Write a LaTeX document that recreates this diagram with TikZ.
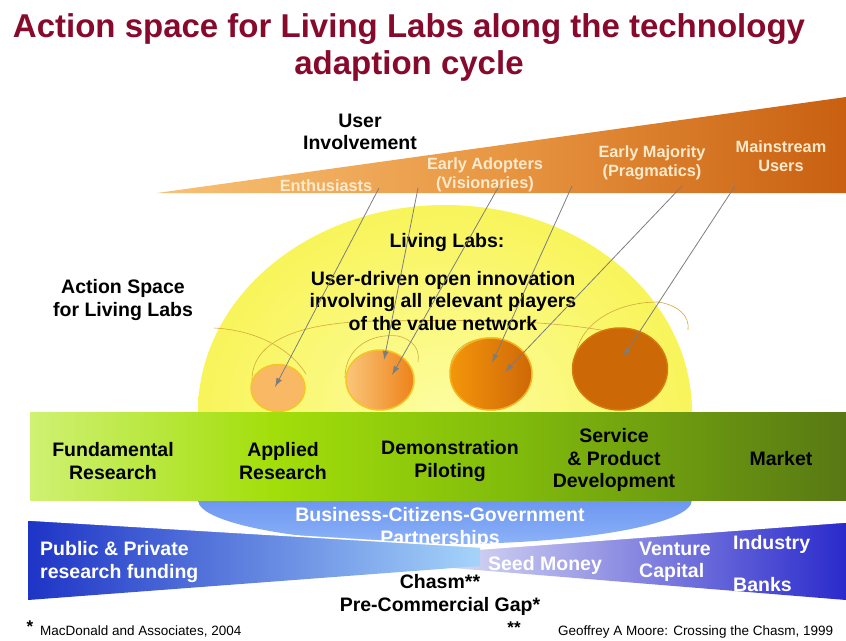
\documentclass[tikz,border=0pt]{standalone}
\usepackage{fontspec}
\setmainfont{Liberation Sans}
\usepackage{xcolor}
\definecolor{titleRed}{RGB}{135,10,45}
\definecolor{wedgeL}{RGB}{247,194,118}
\definecolor{wedgeM}{RGB}{232,150,66}
\definecolor{wedgeR}{RGB}{200,96,16}
\definecolor{wedgeTxt}{RGB}{253,234,205}
\definecolor{domeIn}{RGB}{253,253,160}
\definecolor{domeOut}{RGB}{248,244,90}
\definecolor{faintArc}{RGB}{214,168,60}
\definecolor{ringYellow}{RGB}{247,196,40}
\definecolor{labA}{RGB}{249,185,100}
\definecolor{labB1}{RGB}{250,198,122}
\definecolor{labB2}{RGB}{238,130,25}
\definecolor{labC1}{RGB}{244,150,10}
\definecolor{labC2}{RGB}{206,104,8}
\definecolor{labD}{RGB}{204,104,6}
\definecolor{arrowGray}{RGB}{125,125,125}
\definecolor{bandA}{RGB}{208,241,115}
\definecolor{bandB}{RGB}{162,222,10}
\definecolor{bandC}{RGB}{128,186,12}
\definecolor{bandD}{RGB}{88,120,20}
\definecolor{pppTop}{RGB}{78,122,232}
\definecolor{pppBot}{RGB}{140,178,248}
\definecolor{fundL}{RGB}{30,52,198}
\definecolor{fundR}{RGB}{165,212,250}
\definecolor{ventL}{RGB}{222,222,245}
\definecolor{ventR}{RGB}{42,42,204}
\usepackage{tikz}
\usetikzlibrary{arrows.meta, shapes.geometric}
\pgfdeclarehorizontalshading{greenband}{100bp}{color(0bp)=(bandA); color(25bp)=(bandA); color(40bp)=(bandB); color(55bp)=(bandC); color(75bp)=(bandD); color(100bp)=(bandD)}
\tikzset{
  titlelbl/.style={font=\bfseries\fontsize{33}{38}\selectfont, text=titleRed, inner sep=0pt, anchor=base},
  lbl/.style={font=\bfseries\fontsize{19.5}{22.5}\selectfont, align=center, inner sep=0pt},
  wedgelbl/.style={font=\bfseries\fontsize{16.3}{19.5}\selectfont, align=center, inner sep=0pt, text=wedgeTxt},
  whitelbl/.style={lbl, text=white},
  footlbl/.style={font=\fontsize{13.5}{16}\selectfont, inner sep=0pt, anchor=west},
  starlbl/.style={font=\bfseries\fontsize{17}{17}\selectfont, inner sep=0pt, anchor=base},
  lab/.style={ellipse, draw=ringYellow, line width=1.5pt, inner sep=0pt},
  userarrow/.style={arrowGray, line width=0.8pt, -{Latex[length=9pt, width=6pt]}},
  faint/.style={faintArc, line width=0.6pt},
  wedgeedge/.style={white, line width=1.5pt},
}
\begin{document}
\begin{tikzpicture}[x=1pt, y=-1pt]
\useasboundingbox (0,0) rectangle (846,640);

% === Title ===
\node[titlelbl] (title1) at (409,37) {Action space for Living Labs along the technology};
\node[titlelbl] (title2) at (409,74) {adaption cycle};

% === User involvement wedge ===
\shade[left color=wedgeL, right color=wedgeR, middle color=wedgeM] (157,193) -- (846,97) -- (846,193) -- cycle;
\node[lbl] (userinv) at (360,132) {User\\Involvement};
\node[wedgelbl] (enth) at (326,186) {Enthusiasts};
\node[wedgelbl] (adopt) at (485,175) {Early Adopters\\(Visionaries)};
\node[wedgelbl] (major) at (652,163) {Early Majority\\(Pragmatics)};
\node[wedgelbl] (mainst) at (781,156) {Mainstream\\Users};

% === Living Lab dome ===
\begin{scope}
  \clip (190,190) rectangle (700,412);
  \shade[inner color=domeIn, outer color=domeOut] (445,412) ellipse [x radius=247, y radius=207];
\end{scope}

% thin arcs behind the labs
\draw[faint] (214,328) .. controls (255,330) and (290,348) .. (306,374);
\draw[faint] (252,380) .. controls (252,345) and (290,322) .. (380,321) .. controls (470,320) and (560,318) .. (640,338);
\draw[faint] (345,378) .. controls (345,347) and (372,333) .. (398,336) .. controls (414,340) and (420,350) .. (418,362);
\draw[faint] (450,372) .. controls (450,347) and (472,336) .. (498,338);
\draw[faint] (575,360) .. controls (578,322) and (618,302) .. (658,302) .. controls (678,305) and (690,316) .. (688,330);

% labs, growing along the cycle
\node[lab, minimum width=54pt, minimum height=47pt, fill=labA] (lab1) at (278,388) {};
\node[lab, minimum width=68pt, minimum height=60pt, left color=labB1, right color=labB2] (lab2) at (380,380) {};
\node[lab, minimum width=82pt, minimum height=72pt, left color=labC1, right color=labC2, draw=ringYellow!60!labC1] (lab3) at (491,374) {};
\node[lab, minimum width=95pt, minimum height=82pt, fill=labD, draw=labD!80!ringYellow] (lab4) at (620,369) {};

\node[lbl] (llhead) at (447,242) {Living Labs:};
\node[lbl] (lldesc) at (443,301) {User-driven open innovation\\involving all relevant players\\of the value network};
\node[lbl] (action) at (123,300) {Action Space\\for Living Labs};

% === user groups pointing into the labs ===
\coordinate (s1) at (379,188); \coordinate (t1) at (275,387);
\coordinate (s2) at (418,188); \coordinate (t2) at (384,360);
\coordinate (s3) at (499,186); \coordinate (t3) at (392,375);
\coordinate (s4) at (572,186); \coordinate (t4) at (492,363);
\coordinate (s5) at (682,186); \coordinate (t5) at (505,372);
\coordinate (s6) at (735,186); \coordinate (t6) at (623,357);
\foreach \i in {1,...,6} {\draw[userarrow] (s\i) -- (t\i);}

% === PPP bowl under the band ===
\shade[top color=pppTop, bottom color=pppBot] (445,500) ellipse [x radius=247, y radius=44];
\node[whitelbl] (partner) at (440,539) {Partnerships};

% === Innovation band ===
\shade[shading=greenband] (30,412) rectangle (846,500);
\node[lbl] (fundres) at (113,461) {Fundamental\\Research};
\node[lbl] (applres) at (283,461) {Applied\\Research};
\node[lbl] (demo) at (450,461) {Demonstration\\Piloting};
\node[lbl] (servdev) at (614,460) {Service\\\& Product\\Development};
\node[lbl] (market) at (781,459) {Market};
\node[whitelbl] (bcg) at (440,515) {Business-Citizens-Government};

% === Funding bow tie ===
\shade[left color=ventL, right color=ventR] (440,552) -- (846,522) -- (846,600) -- (440,567) -- cycle;
\draw[wedgeedge] (440,552) -- (846,522);
\shade[left color=fundL, right color=fundR] (28,520) -- (480,547) -- (480,566) -- (28,600) -- cycle;
\draw[wedgeedge] (28,520) -- (480,547);

\node[whitelbl, align=left, anchor=west] (pubfund) at (40,562) {Public \& Private\\research funding};
\node[whitelbl] (seed) at (545,565) {Seed Money};
\node[whitelbl, align=left, anchor=west] (venture) at (639,562) {Venture\\Capital};
\node[whitelbl, anchor=west] (industry) at (733,544) {Industry};
\node[whitelbl, anchor=west] (banks) at (733,585) {Banks};
\node[lbl] (chasm) at (440,595) {Chasm**\\Pre-Commercial Gap*};

% === Footnotes ===
\node[starlbl] (star1) at (30,632) {*};
\node[footlbl] (foot1) at (40,631) {MacDonald and Associates, 2004};
\node[starlbl] (star2) at (514,633) {**};
\node[footlbl] (foot2) at (558,632) {Geoffrey A Moore: Crossing the Chasm, 1999};
\end{tikzpicture}
\end{document}
